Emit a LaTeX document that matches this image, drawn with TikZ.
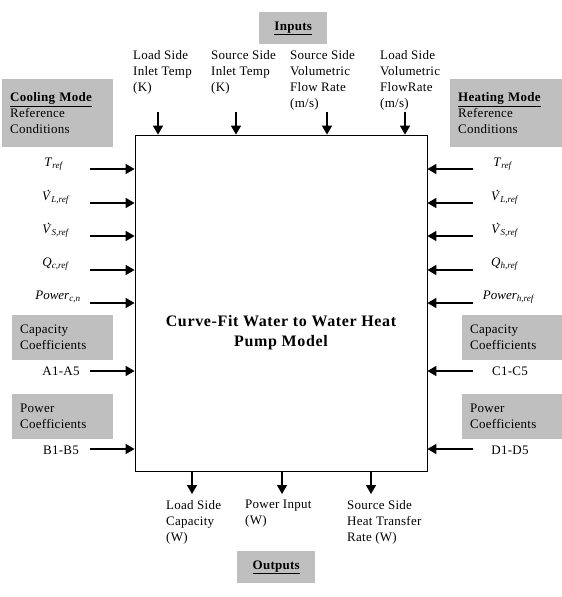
\documentclass[tikz,border=0pt]{standalone}
\usepackage{fontspec}
\setmainfont{Liberation Serif}
\usetikzlibrary{arrows.meta, positioning}

\newcommand{\vsub}[2]{\textit{#1}\textsubscript{\textit{#2}}}
\newcommand{\vdotV}{\rlap{\hspace{5pt}\raisebox{9pt}{.}}V}

\tikzset{
    txt/.style={font=\fontsize{13}{16}\selectfont\addfontfeature{LetterSpace=2}, inner sep=0pt},
    sym/.style={font=\fontsize{13}{16}\selectfont, inner sep=0pt},
    greybox/.style={txt, fill=gray!50, anchor=north west, align=left, inner xsep=8pt},
    toplbl/.style={txt, anchor=north west, align=left},
    inarrow/.style={line width=1.6pt, -{Triangle[length=9pt, width=10pt]}}
}

\begin{document}
\begin{tikzpicture}[x=1pt, y=-1pt]
    \useasboundingbox (0,0) rectangle (562,597);

    % model block
    \node[draw, line width=0.8pt, minimum width=292pt, minimum height=336pt] (model) at (281,303) {};
    \node[inner sep=0pt, font=\fontsize{16}{20}\selectfont\bfseries\addfontfeature{LetterSpace=4}, align=center] (title) at (281,333)
        {Curve-Fit Water to Water Heat\\Pump Model};

    % headings
    \node[greybox, minimum width=68pt, minimum height=32pt, align=center] (inputs) at (259,12)
        {\textbf{\underline{Inputs}}};
    \node[greybox, minimum width=78pt, minimum height=32pt, align=center] (outputs) at (237,551)
        {\textbf{\underline{Outputs}}};
    \node[greybox, minimum width=111pt, minimum height=68pt, text width=95pt] (cool) at (2,79)
        {\textbf{\underline{Cooling Mode}}\\Reference\\Conditions};
    \node[greybox, minimum width=112pt, minimum height=68pt, text width=96pt] (heat) at (450,79)
        {\textbf{\underline{Heating Mode}}\\Reference\\Conditions};
    \node[greybox, minimum width=101pt, minimum height=45pt, text width=85pt] (capl) at (12,315)
        {Capacity\\Coefficients};
    \node[greybox, minimum width=101pt, minimum height=45pt, text width=85pt] (powl) at (12,394)
        {Power\\Coefficients};
    \node[greybox, minimum width=100pt, minimum height=45pt, text width=84pt] (capr) at (462,315)
        {Capacity\\Coefficients};
    \node[greybox, minimum width=100pt, minimum height=45pt, text width=84pt] (powr) at (462,394)
        {Power\\Coefficients};

    % top inputs
    \node[toplbl] (in1) at (133,50) {Load Side\\Inlet Temp\\(K)};
    \node[toplbl] (in2) at (211,50) {Source Side\\Inlet Temp\\(K)};
    \node[toplbl] (in3) at (290,50) {Source Side\\Volumetric\\Flow Rate\\(m/s)};
    \node[toplbl] (in4) at (380,50) {Load Side\\Volumetric\\FlowRate\\(m/s)};
    \foreach \x/\n in {158/1, 236/2, 327/3, 405/4} {
        \coordinate (t\n) at (\x,112);
        \draw[inarrow] (t\n) -- (t\n |- model.north);
    }

    % bottom outputs
    \node[toplbl] (out1) at (166,500) {Load Side\\Capacity\\(W)};
    \node[toplbl] (out2) at (245,500) {Power Input\\(W)};
    \node[toplbl] (out3) at (347,500) {Source Side\\Heat Transfer\\Rate (W)};
    \foreach \x/\n in {192/1, 282/2, 371/3} {
        \coordinate (b\n) at (\x,494);
        \draw[inarrow] (b\n |- model.south) -- (b\n);
    }

    % left side
    \node[sym] (tl) at (54,164) {\vsub{T}{ref}};
    \node[sym] (vll) at (56,197) {\vsub{\vdotV}{L,ref}};
    \node[sym] (vsl) at (56,230) {\vsub{\vdotV}{S,ref}};
    \node[sym] (ql) at (56,264) {\vsub{Q}{c,ref}};
    \node[sym] (pl) at (58,297) {\vsub{Power}{c,n}};
    \node[txt] (al) at (61,371) {A1-A5};
    \node[txt] (bl) at (61,450) {B1-B5};
    \foreach \y/\n in {169/1, 203/2, 236/3, 270/4, 303/5, 371/6, 449/7} {
        \coordinate (l\n) at (90,\y);
        \draw[inarrow] (l\n) -- (model.west |- l\n);
    }

    % right side
    \node[sym] (tr) at (503,164) {\vsub{T}{ref}};
    \node[sym] (vlr) at (505,197) {\vsub{\vdotV}{L,ref}};
    \node[sym] (vsr) at (505,230) {\vsub{\vdotV}{S,ref}};
    \node[sym] (qr) at (505,264) {\vsub{Q}{h,ref}};
    \node[sym] (pr) at (509,297) {\vsub{Power}{h,ref}};
    \node[txt] (cr) at (510,371) {C1-C5};
    \node[txt] (dr) at (510,450) {D1-D5};
    \foreach \y/\n in {169/1, 203/2, 236/3, 270/4, 303/5, 371/6, 449/7} {
        \coordinate (r\n) at (473,\y);
        \draw[inarrow] (r\n) -- (model.east |- r\n);
    }
\end{tikzpicture}
\end{document}
